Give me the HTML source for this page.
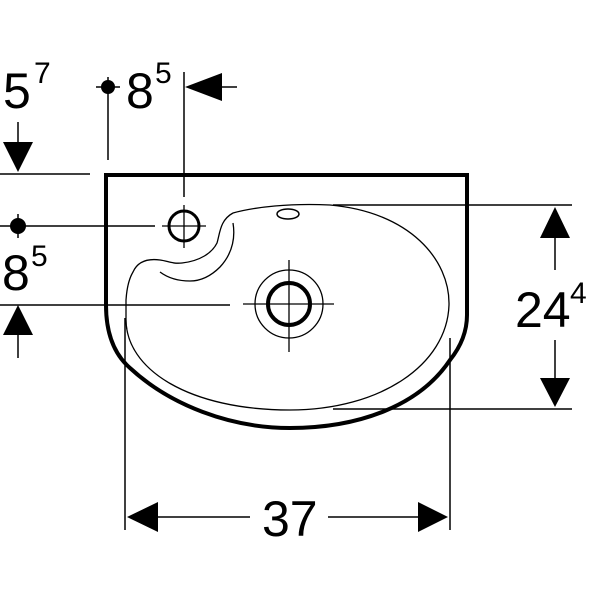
<!DOCTYPE html>
<html><head><meta charset="utf-8"><style>
html,body{margin:0;padding:0;background:#fff}
svg{display:block}
text{font-family:"Liberation Sans",sans-serif;fill:#000}
</style></head><body>
<svg width="600" height="600" viewBox="0 0 600 600" xmlns="http://www.w3.org/2000/svg">
<g fill="none" stroke="#000">
<!-- outer basin -->
<path d="M106,305 L106,175 L467,175 L467,315 C467,330 462,345 450,360 C420,405 360,428 290,428 C230,428 170,405 130,368 C115,355 106,335 106,305" stroke-width="4"/>
<!-- inner bowl -->
<path d="M233,213 C255,207 290,203 330,205 C410,212 450,260 449,305 C447,365 380,410 290,410 C190,410 125,370 126,318 L126,300 C127,285 130,277 133,272 C137,263 145,258 160,260 C168,261 172,264 182,263 C200,261 212,253 217,243 C220,233 220,220 233,213" stroke-width="1.3"/>
<path d="M233,223 C235,235 234,252 220,267 C210,277 200,281 190,281 C178,281 168,278 160,272" stroke-width="1.3"/>
<!-- tap hole -->
<circle cx="184" cy="226" r="15" stroke-width="3"/>
<path d="M162,226 H206 M184,205 V248" stroke-width="1.3"/>
<!-- overflow -->
<ellipse cx="288" cy="214" rx="11" ry="5" stroke-width="1.5"/>
<!-- drain -->
<circle cx="289" cy="304" r="21" stroke-width="4"/>
<circle cx="289" cy="304" r="34" stroke-width="1.3"/>
<path d="M243,304 H334 M289,260 V352" stroke-width="1.3"/>
<path d="M284,304 H294 M289,299 V309" stroke-width="1"/>
<!-- dims lines -->
<g stroke-width="1.5">
<path d="M0,174 H90 M18,122 V150"/>
<path d="M108,77 V160 M96,87 H120"/>
<path d="M184,72 V197 M210,87 H237"/>
<path d="M0,226 H155 M18,214 V238"/>
<path d="M0,305 H230 M18,330 V358"/>
<path d="M333,205 H572 M333,409 H572 M555,230 V270 M555,340 V385"/>
<path d="M125,318 V530 M450,338 V530 M150,517 H250 M328,517 H425"/>
</g>
</g>
<g fill="#000">
<circle cx="108" cy="87" r="7"/>
<circle cx="18" cy="226" r="8"/>
<polygon points="3,142 33,142 18,172"/>
<polygon points="185,87 222,73 222,101"/>
<polygon points="3,335 33,335 18,305"/>
<polygon points="555,207 540,238 570,238"/>
<polygon points="555,407 540,378 570,378"/>
<polygon points="127,517 158,502 158,532"/>
<polygon points="448,517 418,502 418,532"/>
</g>
<text x="3" y="108" font-size="50">5</text>
<text x="34" y="83" font-size="30">7</text>
<text x="126" y="108" font-size="50">8</text>
<text x="155" y="83" font-size="30">5</text>
<text x="2" y="290" font-size="50">8</text>
<text x="31" y="266" font-size="30">5</text>
<text x="515" y="327" font-size="50">24</text>
<text x="570" y="303" font-size="30">4</text>
<text x="262" y="536" font-size="50">37</text>
</svg>
</body></html>
